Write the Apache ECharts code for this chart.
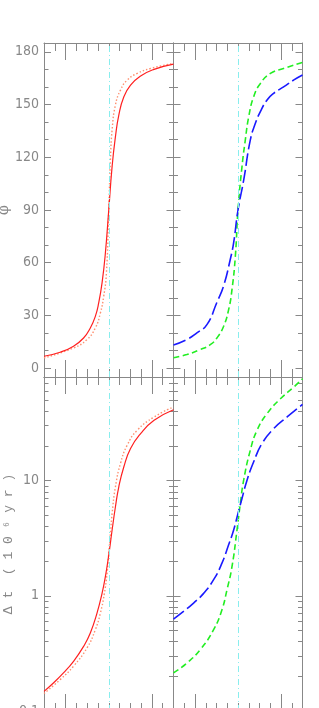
<!DOCTYPE html>
<html><head><meta charset="utf-8">
<script src="https://cdn.jsdelivr.net/npm/echarts@6/dist/echarts.min.js"></script>
<style>html,body{margin:0;padding:0;background:#fff}#c{width:319px;height:708px}</style>
</head><body><div id="c"></div>
<script>
// ---- axis ticks / labels ----
const xMajorTicks = [-1, 1];
const xMinorTicks = [-1.25, -0.75, -0.5, -0.25, 0, 0.25, 0.5, 0.75, 1.25];
const phiLabels = [0, 30, 60, 90, 120, 150, 180];
const phiMinorTicks = [10, 20, 40, 50, 70, 80, 100, 110, 130, 140, 160, 170];
const dtLabels = [0.1, 1, 10];
const dtMinorTicks = [0.2, 0.3, 0.4, 0.5, 0.6, 0.7, 0.8, 0.9, 2, 3, 4, 5, 6, 7, 8, 9, 20, 30, 40, 50, 60, 70];

// ---- top-left: phi, red solid & red dotted ----
const phiRedSolidX = [-1.5, -1.127, -0.816, -0.583, -0.427, -0.311, -0.233, -0.155, -0.078, 0, 0.078, 0.155, 0.233, 0.35, 0.505, 0.738, 1.05, 1.5];
const phiRedSolidY = [6.8, 9.1, 12.5, 17.2, 22.9, 29.5, 37.1, 48.5, 65.5, 90, 114.8, 131.7, 144, 154.4, 161, 166.2, 170, 173];
const phiRedDotX = [-1.5, -0.816, -0.505, -0.311, -0.194, -0.117, -0.054, 0, 0.039, 0.078, 0.155, 0.272, 0.427, 0.66, 0.97, 1.5];
const phiRedDotY = [5.9, 11.5, 16.3, 22.9, 31.4, 40.9, 54.1, 90, 118.5, 135.6, 149.8, 158.2, 163.9, 167.7, 170.5, 173.4];

// ---- top-right: phi, blue long-dash & green dash ----
const phiBlueX = [-1.5, -1.19, -0.956, -0.723, -0.49, -0.334, -0.179, -0.101, 0, 0.132, 0.287, 0.404, 0.52, 0.676, 0.83, 1.06, 1.3, 1.5];
const phiBlueY = [13.2, 16.3, 20.1, 24.8, 37.5, 46.9, 62, 71.5, 90, 107, 129.9, 139.3, 146, 152.6, 156.4, 160, 164, 166.8];
const phiGreenX = [-1.5, -1.19, -0.878, -0.645, -0.49, -0.334, -0.218, -0.14, -0.062, 0, 0.093, 0.171, 0.249, 0.365, 0.52, 0.754, 1.06, 1.5];
const phiGreenY = [5.9, 7.8, 10.6, 13.4, 17.2, 23.9, 33.3, 44.7, 63.6, 90, 114.7, 130, 143, 154.5, 162, 167.7, 170.5, 174];

// ---- bottom-left: dt (10^6 yr), red solid & red dotted ----
const dtRedSolidX = [-1.5, -1.282, -1.049, -0.816, -0.583, -0.427, -0.272, -0.155, -0.078, 0, 0.078, 0.155, 0.233, 0.35, 0.505, 0.738, 1.05, 1.5];
const dtRedSolidY = [0.148, 0.175, 0.214, 0.27, 0.364, 0.475, 0.708, 1.05, 1.47, 2.26, 3.73, 5.93, 8.85, 13.2, 19, 25.6, 33.4, 41.3];
const dtRedDotX = [-1.5, -1.127, -0.816, -0.505, -0.311, -0.194, -0.101, -0.039, 0, 0.039, 0.078, 0.155, 0.272, 0.427, 0.66, 1.05, 1.5];
const dtRedDotY = [0.142, 0.187, 0.245, 0.352, 0.508, 0.708, 1.05, 1.57, 2.34, 3.49, 5.2, 8.85, 14.1, 20.3, 27.4, 35.7, 43.6];

// ---- bottom-right: dt, blue long-dash & green dash ----
const dtBlueX = [-1.5, -1.267, -1.033, -0.8, -0.567, -0.373, -0.218, -0.101, 0, 0.093, 0.21, 0.365, 0.559, 0.831, 1.142, 1.5];
const dtBlueY = [0.628, 0.732, 0.865, 1.05, 1.38, 1.92, 2.77, 3.73, 5.2, 7.0, 10.1, 14.6, 21, 28.3, 35.7, 45.9];
const dtGreenX = [-1.5, -1.189, -0.878, -0.567, -0.373, -0.256, -0.14, -0.023, 0.054, 0.132, 0.287, 0.443, 0.676, 0.987, 1.298, 1.5];
const dtGreenY = [0.214, 0.261, 0.341, 0.508, 0.757, 1.13, 1.79, 3.73, 6.34, 10.1, 18.4, 27.4, 38.2, 51.4, 64.9, 76.6];

const zip = (xs, ys) => xs.map((x, i) => [x, ys[i]]);

const AX = '#888';
const FONT = "'Liberation Sans Narrow','DejaVu Sans Condensed',sans-serif";
const grids = [
  {left: 44, top: 43, width: 129.5, height: 334},
  {left: 173.5, top: 43, width: 129, height: 334},
  {left: 44, top: 377, width: 129.5, height: 334},
  {left: 173.5, top: 377, width: 129, height: 334}
];

const xAxis = [], yAxis = [];
grids.forEach((g, gi) => {
  ['bottom', 'top'].forEach(pos => {
    [[xMajorTicks, 17, true], [xMinorTicks, 8, false]].forEach(([vals, len, line]) => {
      xAxis.push({
        type: 'value', gridIndex: gi, position: pos, min: -1.5, max: 1.5,
        axisLine: {show: line, onZero: false, lineStyle: {color: AX, width: 1}},
        axisTick: {show: true, inside: true, length: len, customValues: vals, lineStyle: {color: AX, width: 1}},
        axisLabel: {show: false}, splitLine: {show: false}
      });
    });
  });
  const isLog = gi >= 2;
  const labels = isLog ? dtLabels : phiLabels;
  const minors = isLog ? dtMinorTicks : phiMinorTicks;
  ['left', 'right'].forEach(pos => {
    [[labels, 7, true], [minors, 4.5, false]].forEach(([vals, len, major]) => {
      const ax = {
        type: isLog ? 'log' : 'value', gridIndex: gi, position: pos,
        min: isLog ? 0.1 : -5, max: isLog ? 79.4 : 185,
        axisLine: {show: major, onZero: false, lineStyle: {color: AX, width: 1}},
        axisTick: {show: true, inside: true, length: len, customValues: vals, lineStyle: {color: AX, width: 1}},
        axisLabel: {show: false}, splitLine: {show: false}
      };
      if (isLog) ax.logBase = 10;
      if (major && pos === 'left' && (gi === 0 || gi === 2)) {
        ax.axisLabel = {show: true, customValues: labels, margin: 5, color: AX, fontSize: 14, fontFamily: FONT};
        if (gi === 0) {
          ax.name = 'φ';
          ax.nameLocation = 'middle';
          ax.nameRotate = 90;
          ax.nameGap = 25;
          ax.nameTextStyle = {color: AX, fontSize: 14, fontFamily: "'DejaVu Serif',serif"};
        } else {
          ax.name = 'Δ t  ( 1 0 ⁶ y r )';
          ax.nameLocation = 'middle';
          ax.nameRotate = 90;
          ax.nameGap = 24;
          ax.nameTextStyle = {color: AX, fontSize: 13, fontFamily: "'Liberation Mono',monospace"};
        }
      }
      yAxis.push(ax);
    });
  });
});

const vline = {
  silent: true, symbol: ['none', 'none'], label: {show: false}, animation: false,
  lineStyle: {color: '#88eeee', width: 1, type: [6, 3, 1, 3]},
  data: [{xAxis: 0}]
};

function line(gi, data, color, type, width, withVline) {
  const s = {
    type: 'line', xAxisIndex: gi * 4, yAxisIndex: gi * 4, data,
    showSymbol: false, symbol: 'none', smooth: 0.5,
    lineStyle: {color, type, width}, animation: false, silent: true
  };
  if (withVline) s.markLine = vline;
  return s;
}

const series = [
  line(0, zip(phiRedDotX, phiRedDotY), '#ff9070', [1.5, 2], 1.4, true),
  line(0, zip(phiRedSolidX, phiRedSolidY), '#ff2020', 'solid', 1.2, false),
  line(1, zip(phiGreenX, phiGreenY), '#22ee22', [6, 3.5], 1.6, true),
  line(1, zip(phiBlueX, phiBlueY), '#1a1aff', [13, 4], 1.6, false),
  line(2, zip(dtRedDotX, dtRedDotY), '#ff9070', [1.5, 2], 1.4, true),
  line(2, zip(dtRedSolidX, dtRedSolidY), '#ff2020', 'solid', 1.2, false),
  line(3, zip(dtGreenX, dtGreenY), '#22ee22', [6, 3.5], 1.6, true),
  line(3, zip(dtBlueX, dtBlueY), '#1a1aff', [13, 4], 1.6, false)
];

const chart = echarts.init(document.getElementById('c'), null, {renderer: 'canvas'});
chart.setOption({
  animation: false,
  backgroundColor: '#fff',
  grid: grids.map(g => Object.assign({containLabel: false, outerBoundsMode: 'none', show: false}, g)),
  xAxis, yAxis, series
});
</script>
</body></html>
